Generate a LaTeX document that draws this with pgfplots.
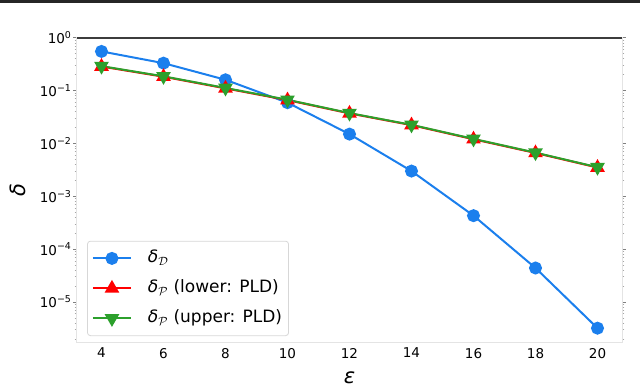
\documentclass[border=0pt]{standalone}
\usepackage{fontspec}
\setmainfont{DejaVu Sans}
\usepackage{pgfplots}
\pgfplotsset{compat=1.18}
\definecolor{cblue}{RGB}{27,127,237}
\definecolor{cred}{RGB}{255,0,0}
\definecolor{cgreen}{RGB}{44,160,44}
\definecolor{spinegray}{RGB}{228,228,228}
\definecolor{leggray}{RGB}{215,215,215}
\definecolor{topline}{RGB}{60,60,60}
\begin{document}
\begin{tikzpicture}
\begin{axis}[
  at={(0bp,0bp)}, anchor=south west, scale only axis,
  width=545.6bp, height=304.6bp,
  xmin=3.2, xmax=20.8,
  ymode=log, ymin=1.73e-6, ymax=1,
  xtick={4,6,8,10,12,14,16,18,20},
  ytick={1,1e-1,1e-2,1e-3,1e-4,1e-5},
  yticklabels={10\textsuperscript{0},10\textsuperscript{−1},10\textsuperscript{−2},10\textsuperscript{−3},10\textsuperscript{−4},10\textsuperscript{−5}},
  minor ytick={2e-6,3e-6,4e-6,5e-6,6e-6,7e-6,8e-6,9e-6,
               2e-5,3e-5,4e-5,5e-5,6e-5,7e-5,8e-5,9e-5,
               2e-4,3e-4,4e-4,5e-4,6e-4,7e-4,8e-4,9e-4,
               2e-3,3e-3,4e-3,5e-3,6e-3,7e-3,8e-3,9e-3,
               2e-2,3e-2,4e-2,5e-2,6e-2,7e-2,8e-2,9e-2,
               2e-1,3e-1,4e-1,5e-1,6e-1,7e-1,8e-1,9e-1},
  /pgf/number format/assume math mode=true,
  axis line style={spinegray, line width=1bp},
  tick align=outside,
  major tick length=3.5bp, minor tick length=2bp,
  x tick style={draw=none},
  major y tick style={gray, line width=0.8bp},
  minor y tick style={gray!70, line width=0.6bp},
  ticklabel style={font=\fontsize{13.5bp}{16bp}\selectfont},
  yticklabel style={inner sep=1.5bp},
  xticklabel style={inner sep=2bp},
  xlabel={\itshape ε},
  ylabel={\itshape δ},
  every axis x label/.style={at={(axis description cs:0.5,0)}, anchor=center, yshift=-35bp, font=\fontsize{21bp}{24bp}\selectfont},
  every axis y label/.style={at={(axis description cs:0,0.5)}, xshift=-59bp, anchor=center, rotate=90, font=\fontsize{21bp}{24bp}\selectfont},
  legend style={at={(axis description cs:0.019,0.0205)}, anchor=south west,
    draw=leggray, line width=0.8bp, rounded corners=3bp,
    font=\fontsize{17bp}{20bp}\selectfont,
    inner xsep=4.5bp, inner ysep=7bp, row sep=9.5bp, column sep=14bp,
    nodes={inner sep=2bp, text height=12.5bp, text depth=4bp}},
  legend cell align=left,
  legend image code/.code={\draw[mark repeat=2,mark phase=2] plot coordinates {(0bp,0bp) (19bp,0bp) (38bp,0bp)};},
  clip=false,
]
\addplot[cblue, line width=2bp, mark=*, mark size=5.5bp, mark options={solid, fill=cblue, draw=cblue}]
  coordinates {(4,0.55) (6,0.33) (8,0.16) (10,0.059) (12,0.015) (14,0.003) (16,4.3e-4) (18,4.4e-5) (20,3.2e-6)};
\addlegendentry{{\itshape δ}\textsubscript{$\mathcal{D}$}}
\addplot[cred, line width=2bp, mark=triangle*, mark size=6.5bp, mark options={solid, fill=cred, draw=cred}]
  coordinates {(4,0.285) (6,0.183) (8,0.110) (10,0.066) (12,0.037) (14,0.0222) (16,0.0120) (18,0.0066) (20,0.0035)};
\addlegendentry{{\itshape δ}\textsubscript{$\mathcal{P}$} (lower: PLD)}
\addplot[cgreen, line width=2bp, mark=triangle*, mark size=6.5bp, mark options={solid, fill=cgreen, draw=cgreen, rotate=180}]
  coordinates {(4,0.29) (6,0.186) (8,0.112) (10,0.067) (12,0.0375) (14,0.0225) (16,0.0122) (18,0.0067) (20,0.00355)};
\addlegendentry{{\itshape δ}\textsubscript{$\mathcal{P}$} (upper: PLD)}
\end{axis}
\draw[topline, line width=2bp] (0bp,304.6bp) -- (545.6bp,304.6bp);
\fill[black!85] (-76.7bp,338.8bp) rectangle (563.3bp,342.3bp);
\path[use as bounding box] (-76.7bp,-41.7bp) rectangle (563.3bp,342.3bp);
\end{tikzpicture}
\end{document}
